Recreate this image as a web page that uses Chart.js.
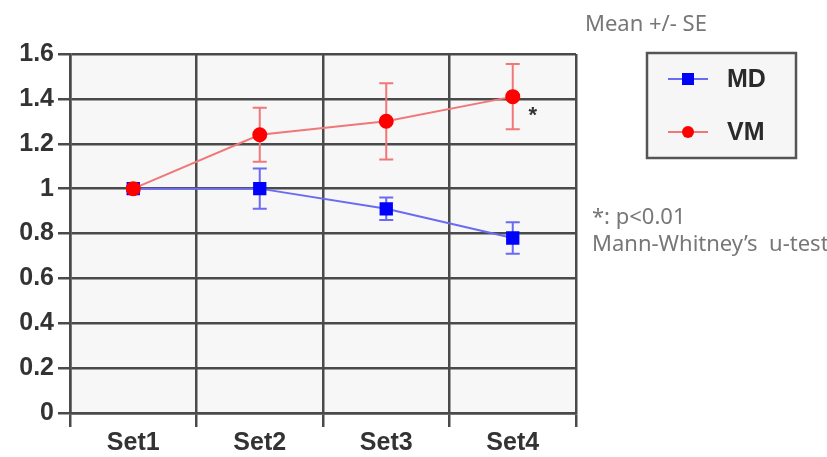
<!DOCTYPE html>
<html>
<head>
<meta charset="utf-8">
<script src="https://cdn.jsdelivr.net/npm/chart.js@4"></script>
<style>
  html, body { margin: 0; padding: 0; background: #fff; }
  #wrap { width: 827px; height: 457px; }
</style>
</head>
<body>
<div id="wrap"><canvas id="chart" width="827" height="457"></canvas></div>
<script>
const categories = ['Set1', 'Set2', 'Set3', 'Set4']
const mdMean = [1.0, 1.0, 0.91, 0.78]
const mdSE = [0.01, 0.09, 0.05, 0.07]
const vmMean = [1.0, 1.24, 1.3, 1.41]
const vmSE = [0.01, 0.12, 0.17, 0.145]
const starIndex = 3 // VM at Set4 marked with *

const mdColor = '#0000ff'
const mdLine = '#6a6af2'
const vmColor = '#ff0000'
const vmLine = '#f07878'
const gridColor = '#4a4a4a'

// light gray plot background
const plotBg = {
  id: 'plotBg',
  beforeDraw(chart) {
    const { ctx, chartArea: a } = chart
    ctx.save()
    ctx.fillStyle = '#f7f7f7'
    ctx.fillRect(a.left, a.top, a.right - a.left, a.bottom - a.top)
    ctx.restore()
  },
}

// error bars (under the points), asterisk, legend box and notes
const extras = {
  id: 'extras',
  beforeDatasetsDraw(chart) {
    const { ctx } = chart
    const y = chart.scales.y
    const sets = [
      { idx: 0, mean: mdMean, se: mdSE, color: mdLine },
      { idx: 1, mean: vmMean, se: vmSE, color: vmLine },
    ]
    ctx.save()
    sets.forEach((s) => {
      const meta = chart.getDatasetMeta(s.idx)
      ctx.strokeStyle = s.color
      ctx.lineWidth = 2
      meta.data.forEach((pt, i) => {
        const top = y.getPixelForValue(s.mean[i] + s.se[i])
        const bot = y.getPixelForValue(s.mean[i] - s.se[i])
        ctx.beginPath()
        ctx.moveTo(pt.x, top)
        ctx.lineTo(pt.x, bot)
        ctx.moveTo(pt.x - 7, top)
        ctx.lineTo(pt.x + 7, top)
        ctx.moveTo(pt.x - 7, bot)
        ctx.lineTo(pt.x + 7, bot)
        ctx.stroke()
      })
    })
    ctx.restore()
  },
  afterDraw(chart) {
    const { ctx } = chart
    ctx.save()
    // asterisk next to VM Set4
    const p = chart.getDatasetMeta(1).data[starIndex]
    ctx.fillStyle = '#333'
    ctx.font = 'bold 22px "Liberation Sans", Arial, sans-serif'
    ctx.textAlign = 'center'
    ctx.textBaseline = 'middle'
    ctx.fillText('*', p.x + 20, p.y + 19)

    // notes
    ctx.fillStyle = '#777'
    ctx.font = '22px "Noto Sans", sans-serif'
    ctx.textAlign = 'left'
    ctx.fillText('Mean +/- SE', 585, 25)
    ctx.fillText('*: p<0.01', 592, 218)
    ctx.fillText('Mann-Whitney\u2019s  u-test', 592, 245)

    // legend box
    ctx.fillStyle = '#f6f6f6'
    ctx.fillRect(647, 53, 149, 105)
    ctx.strokeStyle = '#555'
    ctx.lineWidth = 2.5
    ctx.strokeRect(647, 53, 149, 105)
    const items = [
      { label: 'MD', line: mdLine, color: mdColor, style: 'rect', yy: 79 },
      { label: 'VM', line: vmLine, color: vmColor, style: 'circle', yy: 132 },
    ]
    items.forEach((it) => {
      ctx.strokeStyle = it.line
      ctx.lineWidth = 2
      ctx.beginPath()
      ctx.moveTo(668, it.yy)
      ctx.lineTo(708, it.yy)
      ctx.stroke()
      ctx.fillStyle = it.color
      if (it.style === 'rect') {
        ctx.fillRect(682, it.yy - 6, 12, 12)
      } else {
        ctx.beginPath()
        ctx.arc(688, it.yy, 6, 0, Math.PI * 2)
        ctx.fill()
      }
      ctx.fillStyle = '#2a2a2a'
      ctx.font = 'bold 25px "Liberation Sans", Arial, sans-serif'
      ctx.fillText(it.label, 727, it.yy + 1)
    })
    ctx.restore()
  },
}

const tickFont = { family: '"Liberation Sans", Arial, sans-serif', size: 25, weight: 'bold' }

new Chart(document.getElementById('chart'), {
  type: 'line',
  data: {
    labels: categories,
    datasets: [
      {
        label: 'MD',
        data: mdMean,
        borderColor: mdLine,
        backgroundColor: mdColor,
        pointBackgroundColor: mdColor,
        pointBorderColor: mdColor,
        pointStyle: 'rect',
        pointRadius: 8,
        borderWidth: 2,
        tension: 0,
        order: 1,
      },
      {
        label: 'VM',
        data: vmMean,
        borderColor: vmLine,
        backgroundColor: vmColor,
        pointBackgroundColor: vmColor,
        pointBorderColor: vmColor,
        pointStyle: 'circle',
        pointRadius: 6.5,
        borderWidth: 2,
        tension: 0,
        order: 0,
      },
    ],
  },
  options: {
    responsive: false,
    animation: false,
    layout: { padding: { top: 54, right: 251, left: 0, bottom: 0 } },
    plugins: { legend: { display: false }, tooltip: { enabled: false } },
    scales: {
      x: {
        offset: true,
        grid: { offset: true, color: gridColor, lineWidth: 2.5, tickLength: 14 },
        border: { color: gridColor, width: 2.5 },
        ticks: { color: '#333', font: tickFont, padding: 1 },
        afterFit(scale) { scale.height = 44 },
      },
      y: {
        min: 0,
        max: 1.6,
        ticks: {
          stepSize: 0.2,
          color: '#333',
          font: tickFont,
          padding: 4,
          callback: (v) => String(Number(v.toFixed(1))),
        },
        grid: { color: gridColor, lineWidth: 2.5, tickLength: 12 },
        border: { color: gridColor, width: 2.5 },
        afterFit(scale) { scale.width = 70 },
      },
    },
  },
  plugins: [plotBg, extras],
})
</script>
</body>
</html>
